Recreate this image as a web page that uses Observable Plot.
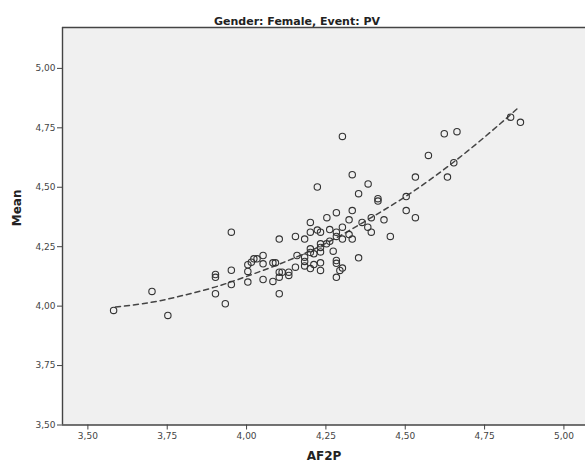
<!DOCTYPE html>
<html><head><meta charset="utf-8">
<script src="https://cdn.jsdelivr.net/npm/d3@7"></script>
<script src="https://cdn.jsdelivr.net/npm/@observablehq/plot@0.6"></script>
<style>body{margin:0;background:#fff}</style>
</head><body><div id="chart"></div>
<script>
const title = "Gender: Female, Event: PV";
const xLabel = "AF2P";
const yLabel = "Mean";
const xTicks = [3.5, 3.75, 4, 4.25, 4.5, 4.75, 5];
const yTicks = [3.5, 3.75, 4, 4.25, 4.5, 4.75, 5];
const af2p = [3.581,3.702,3.752,3.902,3.902,3.902,3.933,3.952,3.952,3.952,
4.004,4.004,4.004,4.015,4.023,4.033,4.052,4.052,4.052,4.083,
4.083,4.091,4.103,4.103,4.103,4.103,4.112,4.133,4.133,4.154,
4.154,4.159,4.183,4.183,4.183,4.183,4.201,4.201,4.201,4.201,
4.201,4.212,4.212,4.223,4.223,4.233,4.233,4.233,4.233,4.233,
4.233,4.253,4.252,4.262,4.262,4.273,4.283,4.283,4.283,4.283,
4.283,4.283,4.294,4.302,4.302,4.302,4.302,4.323,4.323,4.333,
4.333,4.333,4.353,4.353,4.364,4.382,4.383,4.393,4.393,4.414,
4.414,4.433,4.453,4.503,4.503,4.532,4.532,4.573,4.623,4.633,
4.653,4.663,4.832,4.863];
const mean = [3.982,4.062,3.961,4.133,4.121,4.052,4.010,4.311,4.151,4.091,
4.174,4.146,4.101,4.185,4.199,4.199,4.213,4.178,4.112,4.182,
4.104,4.182,4.282,4.143,4.122,4.052,4.143,4.143,4.129,4.293,
4.164,4.213,4.282,4.206,4.188,4.169,4.352,4.311,4.241,4.226,
4.158,4.220,4.175,4.501,4.320,4.311,4.262,4.247,4.228,4.182,
4.150,4.372,4.262,4.322,4.273,4.231,4.393,4.311,4.293,4.192,
4.180,4.121,4.150,4.714,4.332,4.282,4.160,4.363,4.301,4.553,
4.402,4.282,4.473,4.203,4.352,4.332,4.514,4.372,4.311,4.452,
4.442,4.363,4.293,4.461,4.402,4.543,4.372,4.634,4.725,4.543,
4.603,4.734,4.795,4.773];
// fit curve
const fitX = [3.587, 3.70, 3.80, 3.90, 4.00, 4.10, 4.20, 4.30, 4.40, 4.50, 4.60, 4.70, 4.80, 4.855];
const fitY = [3.996, 4.016, 4.045, 4.080, 4.125, 4.175, 4.232, 4.300, 4.378, 4.460, 4.553, 4.656, 4.768, 4.833];

const points = af2p.map((x, i) => ({x, y: mean[i]}));
const fit = fitX.map((x, i) => ({x, y: fitY[i]}));
const fmt = d => d.toFixed(2).replace(".", ",");
const X0 = 3.42, X1 = 5.068, Y0 = 3.5, Y1 = 5.172;

const chart = Plot.plot({
  width: 585, height: 468,
  marginLeft: 62, marginTop: 27, marginBottom: 43.5, marginRight: 0,
  style: {background: "#fff", fontFamily: "DejaVu Sans, sans-serif", fontSize: "9px", color: "#444"},
  x: {domain: [X0, X1], axis: null},
  y: {domain: [Y0, Y1], axis: null},
  marks: [
    Plot.frame({fill: "#f0f0f0", stroke: "none"}),
    Plot.axisX(xTicks, {tickFormat: fmt, tickSize: 5, tickPadding: 3, label: null, stroke: "#444", fill: "#444"}),
    Plot.axisY(yTicks, {tickFormat: fmt, tickSize: 5, tickPadding: 2, label: null, stroke: "#444", fill: "#444"}),
    Plot.ruleX([X0], {stroke: "#444", strokeWidth: 1.4}),
    Plot.ruleY([Y0], {stroke: "#444", strokeWidth: 1.4}),
    Plot.ruleY([Y1], {stroke: "#444", strokeWidth: 1.4}),
    Plot.line(fit, {x: "x", y: "y", stroke: "#444", strokeWidth: 1.5, strokeDasharray: "5,4", curve: "natural"}),
    Plot.dot(points, {x: "x", y: "y", r: 3.2, stroke: "#333", strokeWidth: 1.1, fill: "none"}),
    Plot.text([title], {frameAnchor: "top", dx: -27, dy: -10, fontWeight: "bold", fontSize: 11, fill: "#222", fontFamily: "DejaVu Sans, sans-serif"}),
    Plot.text([xLabel], {frameAnchor: "bottom", dy: 35, fontWeight: "bold", fontSize: 12, fill: "#222"}),
    Plot.text([yLabel], {frameAnchor: "left", dx: -45, rotate: -90, fontWeight: "bold", fontSize: 12, fill: "#222"})
  ]
});
document.getElementById("chart").appendChild(chart);
</script>
</body></html>
